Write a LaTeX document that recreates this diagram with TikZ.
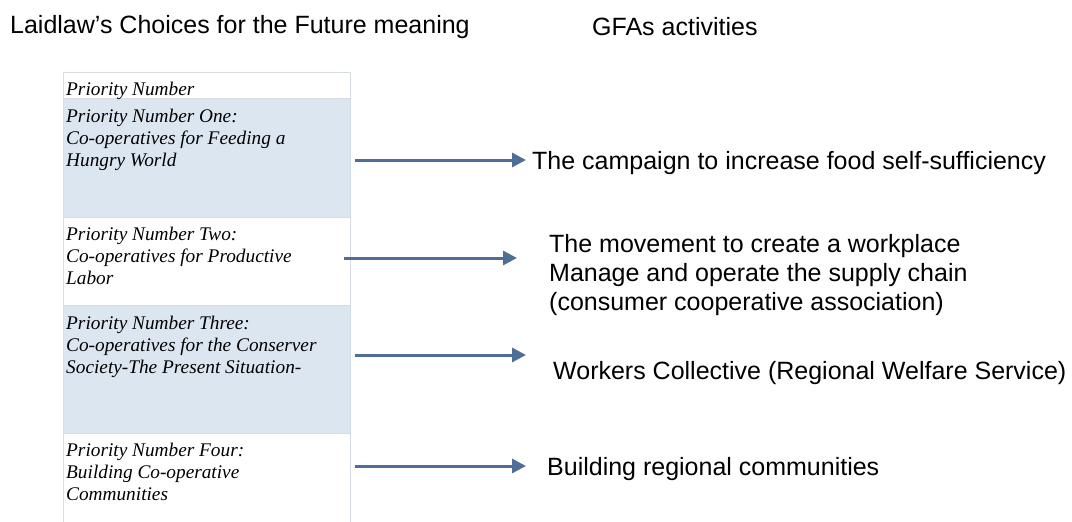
\documentclass[tikz,border=0pt]{standalone}
\usepackage{fontspec}
\setmainfont{Liberation Sans}
\newfontfamily\tnr{Liberation Serif}
\usetikzlibrary{arrows.meta}
\definecolor{rowblue}{HTML}{DCE6F1}
\definecolor{gridline}{HTML}{D5DCE6}
\definecolor{arrowblue}{HTML}{4F6D97}
\begin{document}
\begin{tikzpicture}[x=1pt,y=-1pt,
  cell/.style={draw=gridline,line width=0.8pt,anchor=north west,minimum width=287pt,inner sep=0pt},
  celltext/.style={anchor=north west,align=left,inner sep=0pt,font=\tnr\itshape\fontsize{19.3}{22}\selectfont},
  head/.style={anchor=west,inner sep=0pt,font=\fontsize{25}{29}\selectfont},
  act/.style={anchor=west,inner sep=0pt,align=left,font=\fontsize{25}{29.2}\selectfont},
  arr/.style={draw=arrowblue,line width=3pt,-{Triangle[length=14pt,width=14pt]}}]
\useasboundingbox (0,0) rectangle (1072,522);
% headings
\node[head] (h1) at (10,27) {Laidlaw’s Choices for the Future meaning};
\node[head] (h2) at (592,27) {GFAs activities};
% table rows
\node[cell,minimum height=26pt] (r0) at (63,72) {};
\node[cell,fill=rowblue,minimum height=119pt] (r1) at (63,98) {};
\node[cell,minimum height=88pt] (r2) at (63,217) {};
\node[cell,fill=rowblue,minimum height=128pt] (r3) at (63,305) {};
\node[cell,minimum height=89pt] (r4) at (63,433) {};
% table texts
\node[celltext] (c0) at (66,82) {Priority Number};
\node[celltext] (c1) at (66,109) {Priority Number One:\\Co-operatives for Feeding a\\Hungry World};
\node[celltext] (c2) at (66,227) {Priority Number Two:\\Co-operatives for Productive\\Labor};
\node[celltext] (c3) at (66,316) {Priority Number Three:\\Co-operatives for the Conserver\\Society-The Present Situation-};
\node[celltext] (c4) at (66,443) {Priority Number Four:\\Building Co-operative\\Communities};
% activities
\node[act] (t1) at (532,163) {The campaign to increase food self-sufficiency};
\node[act] (t2) at (549,275) {The movement to create a workplace\\Manage and operate the supply chain\\(consumer cooperative association)};
\node[act] (t3) at (553,373) {Workers Collective (Regional Welfare Service)};
\node[act] (t4) at (547,469) {Building regional communities};
% arrows
\coordinate (s1) at (355,160);
\coordinate (e1) at (526,160);
\coordinate (s2) at (344,258);
\coordinate (e2) at (517,258);
\coordinate (s3) at (355,355);
\coordinate (e3) at (526,355);
\coordinate (s4) at (355,466);
\coordinate (e4) at (526,466);
\draw[arr] (s1) -- (e1);
\draw[arr] (s2) -- (e2);
\draw[arr] (s3) -- (e3);
\draw[arr] (s4) -- (e4);
\end{tikzpicture}
\end{document}
